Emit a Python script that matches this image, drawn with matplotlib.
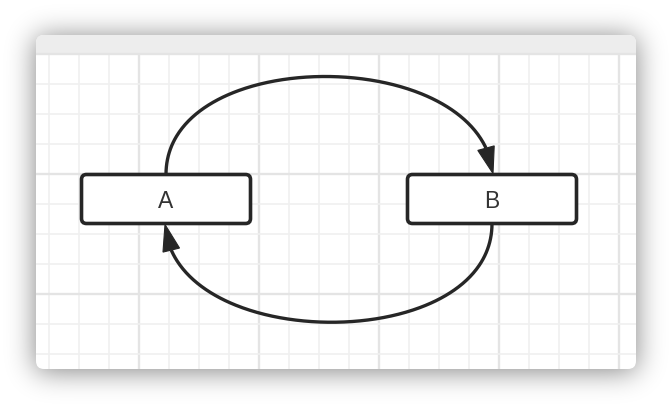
import numpy as np
import matplotlib
matplotlib.use("Agg")
import matplotlib.pyplot as plt
from matplotlib.patches import FancyBboxPatch, Polygon, Rectangle

# ---- diagram content ----
nodes = ["A", "B"]
edges = [("A", "B"), ("B", "A")]

W, H = 672, 406
fig = plt.figure(figsize=(W / 100, H / 100), dpi=100)
ax = fig.add_axes([0, 0, 1, 1])
ax.set_xlim(0, W)
ax.set_ylim(H, 0)
ax.axis("off")

# ---- layout (pixel space) ----
PX0, PY0, PX1, PY1 = 36, 36, 636, 370
HEADER = 54
box_w, box_h = 169, 49
centers = {"A": (166, 200), "B": (492, 200)}
INK = "#262626"

# ---- shadow ----
yy, xx = np.mgrid[0:H, 0:W]
mask = ((xx >= PX0) & (xx < PX1) & (yy >= PY0 + 2) & (yy < PY1 + 2)).astype(float)
def blur1d(a, sigma, axis):
    r = int(3 * sigma)
    k = np.exp(-0.5 * (np.arange(-r, r + 1) / sigma) ** 2)
    k /= k.sum()
    return np.apply_along_axis(lambda v: np.convolve(v, k, mode="same"), axis, a)
sh = blur1d(blur1d(mask, 14, 0), 14, 1)
rgba = np.zeros((H, W, 4))
rgba[..., 3] = sh * 0.5
ax.imshow(rgba, extent=(0, W, H, 0), zorder=0, interpolation="bilinear")

# ---- panel ----
panel = FancyBboxPatch((PX0, PY0), PX1 - PX0, PY1 - PY0,
                       boxstyle="round,pad=0,rounding_size=8",
                       fc="white", ec="none", zorder=1)
ax.add_patch(panel)
hdr = Rectangle((PX0, PY0), PX1 - PX0, HEADER - PY0, fc="#ededed", ec="none", zorder=2)
ax.add_patch(hdr)
hdr.set_clip_path(panel)

# grid
for i, x in enumerate(range(49, PX1, 30)):
    dark = (x - 139) % 120 == 0
    ln, = ax.plot([x, x], [HEADER, PY1], color="#e4e4e4" if dark else "#f0f0f0",
                  lw=1.7 if dark else 1.2, zorder=2, solid_capstyle="butt")
    ln.set_clip_path(panel)
for y in range(55, PY1, 30):
    dark = (y - 55) % 120 == 0
    ln, = ax.plot([PX0, PX1], [y, y], color="#e4e4e4" if dark else "#f0f0f0",
                  lw=1.7 if dark else 1.2, zorder=2, solid_capstyle="butt")
    ln.set_clip_path(panel)

# ---- nodes ----
for name in nodes:
    cx, cy = centers[name]
    ax.add_patch(FancyBboxPatch((cx - box_w / 2, cy - box_h / 2), box_w, box_h,
                                boxstyle="round,pad=0,rounding_size=5",
                                fc="white", ec=INK, lw=2.6, zorder=4))
    ax.text(cx, cy + 1.5, name, ha="center", va="center", fontsize=16.5,
            color="#333333", family="Liberation Sans", zorder=5)

# ---- edges ----
def bezier(p0, p1, p2, p3, n=300):
    t = np.linspace(0, 1, n)[:, None]
    return ((1 - t) ** 3 * p0 + 3 * (1 - t) ** 2 * t * p1
            + 3 * (1 - t) * t ** 2 * p2 + t ** 3 * p3)

def draw_edge(src, dst):
    sx, sy = centers[src]
    dx, dy = centers[dst]
    if sx < dx:  # top arc
        p0 = np.array([sx, sy - box_h / 2])
        p3 = np.array([dx + 1, dy - box_h / 2 - 1])
        c = 45
        p1 = np.array([p0[0], c]); p2 = np.array([p3[0] - 13, c])
    else:        # bottom arc
        p0 = np.array([sx, sy + box_h / 2])
        p3 = np.array([dx - 1, dy + box_h / 2 + 1])
        c = 356
        p1 = np.array([p0[0], c]); p2 = np.array([p3[0] + 9, c])
    pts = bezier(p0, p1, p2, p3)
    tip = pts[-1]
    d = np.hypot(*(pts - tip).T)
    hl, hw = 26, 8.5
    idx = np.where(d >= hl)[0][-1]
    base = pts[idx]
    u = (tip - base) / np.linalg.norm(tip - base)
    nrm = np.array([-u[1], u[0]])
    ax.plot(pts[:idx + 1, 0], pts[:idx + 1, 1], color=INK, lw=2.4, zorder=3,
            solid_capstyle="butt")
    ax.add_patch(Polygon([tip, base + nrm * hw, base - nrm * hw], closed=True,
                         fc=INK, ec=INK, lw=0.8, zorder=5))

for s, t in edges:
    draw_edge(s, t)

fig.savefig("out.png", dpi=100)
